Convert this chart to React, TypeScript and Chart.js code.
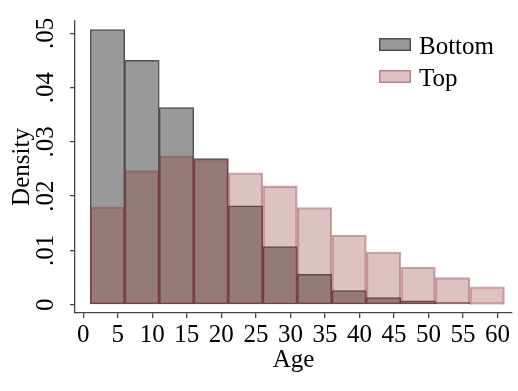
import { useEffect, useRef } from 'react';
import { Chart, registerables } from 'chart.js';
Chart.register(...registerables);

const binStarts = [1, 6, 11, 16, 21, 26, 31, 36, 41, 46, 51, 56];
const binWidth = 5;
const bottomDensity = [0.0507, 0.045, 0.0363, 0.0269, 0.0182, 0.0107, 0.0056, 0.0026, 0.0013, 0.0007, 0.0004, 0.0001];
const topDensity = [0.018, 0.0247, 0.0274, 0.0267, 0.0243, 0.0219, 0.0179, 0.0128, 0.0097, 0.0069, 0.005, 0.0033];
const xTicks = [0, 5, 10, 15, 20, 25, 30, 35, 40, 45, 50, 55, 60];
const yTicks = [0, 0.01, 0.02, 0.03, 0.04, 0.05];
const yTickLabels = ['0', '.01', '.02', '.03', '.04', '.05'];
const seriesLabels = ['Bottom', 'Top'];
const xTitle = 'Age';
const yTitle = 'Density';

const FONT = '"Liberation Serif", "Times New Roman", serif';
const GRAY_FILL = 'rgb(153,153,153)';
const GRAY_BORDER = 'rgb(80,80,80)';
const PINK_FILL = 'rgba(144,53,59,0.3)';
const PINK_BORDER = 'rgba(144,53,59,0.45)';
const AXIS = '#444';

const overlayPlugin = {
  id: 'overlay',
  afterDraw(chart: any) {
    const ctx = chart.ctx;
    const ys = chart.scales.y;
    ctx.save();
    ctx.fillStyle = '#000';
    ctx.font = `25px ${FONT}`;
    ctx.textAlign = 'center';
    ctx.textBaseline = 'alphabetic';
    yTicks.forEach((v, i) => {
      const py = ys.getPixelForValue(v);
      ctx.save();
      ctx.translate(53, py);
      ctx.rotate(-Math.PI / 2);
      ctx.fillText(yTickLabels[i], 0, 0);
      ctx.restore();
    });
    // legend
    const area = chart.chartArea;
    const bx = area.right - 133;
    const items = [
      { label: seriesLabels[0], fill: GRAY_FILL, border: GRAY_BORDER, top: 38 },
      { label: seriesLabels[1], fill: PINK_FILL, border: PINK_BORDER, top: 70 },
    ];
    ctx.font = `25px ${FONT}`;
    ctx.textAlign = 'left';
    items.forEach((it) => {
      ctx.fillStyle = it.fill;
      ctx.fillRect(bx, it.top, 32, 13);
      ctx.strokeStyle = it.border;
      ctx.lineWidth = 1.5;
      ctx.strokeRect(bx + 0.75, it.top + 0.75, 30.5, 11.5);
      ctx.fillStyle = '#000';
      ctx.fillText(it.label, bx + 40, it.top + 16);
    });
    ctx.restore();
  },
};

export default function App() {
  const ref = useRef<HTMLCanvasElement>(null);
  useEffect(() => {
    if (!ref.current) return;
    const mk = (vals: number[]) => binStarts.map((s, i) => ({ x: s + binWidth / 2, y: vals[i] }));
    const chart = new Chart(ref.current, {
      type: 'bar',
      data: {
        datasets: [
          {
            label: seriesLabels[0],
            data: mk(bottomDensity),
            backgroundColor: GRAY_FILL,
            borderColor: GRAY_BORDER,
            borderWidth: 1.5,
            borderSkipped: false,
            order: 2,
          },
          {
            label: seriesLabels[1],
            data: mk(topDensity),
            backgroundColor: PINK_FILL,
            borderColor: PINK_BORDER,
            borderWidth: 1.5,
            borderSkipped: false,
            order: 1,
          },
        ],
      },
      options: {
        animation: false,
        responsive: true,
        maintainAspectRatio: false,
        grouped: false,
        barPercentage: 1,
        categoryPercentage: 1,
        layout: { padding: { left: 0, top: 21, right: 6, bottom: 0 } },
        plugins: { legend: { display: false }, tooltip: { enabled: false } },
        scales: {
          x: {
            type: 'linear',
            offset: false,
            min: -1.2,
            max: 62.1,
            afterBuildTicks: (s: any) => {
              s.ticks = xTicks.map((v) => ({ value: v }));
            },
            afterFit: (s: any) => {
              s.height = 78;
            },
            grid: { offset: false, drawOnChartArea: false, drawTicks: true, tickLength: 5, color: AXIS, lineWidth: 1.3 },
            border: { display: true, color: AXIS, width: 1.3 },
            ticks: { color: '#000', font: { family: FONT, size: 25 }, padding: 2, maxRotation: 0, autoSkip: false },
            title: { display: true, text: xTitle, color: '#000', font: { family: FONT, size: 25 }, padding: { top: 0, bottom: 16 } },
          },
          y: {
            type: 'linear',
            min: -0.00153,
            max: 0.05226,
            afterBuildTicks: (s: any) => {
              s.ticks = yTicks.map((v) => ({ value: v }));
            },
            afterFit: (s: any) => {
              s.width = 75;
            },
            grid: { drawOnChartArea: false, drawTicks: true, tickLength: 5, color: AXIS, lineWidth: 1.3 },
            border: { display: true, color: AXIS, width: 1.3 },
            ticks: { display: false },
            title: { display: true, text: yTitle, color: '#000', font: { family: FONT, size: 25 }, padding: { top: 7, bottom: 0 } },
          },
        },
      },
      plugins: [overlayPlugin],
    } as any);
    return () => chart.destroy();
  }, []);
  return (
    <div style={{ position: 'absolute', left: 0, top: 0, width: 518, height: 391, background: '#fff' }}>
      <canvas ref={ref} />
    </div>
  );
}
